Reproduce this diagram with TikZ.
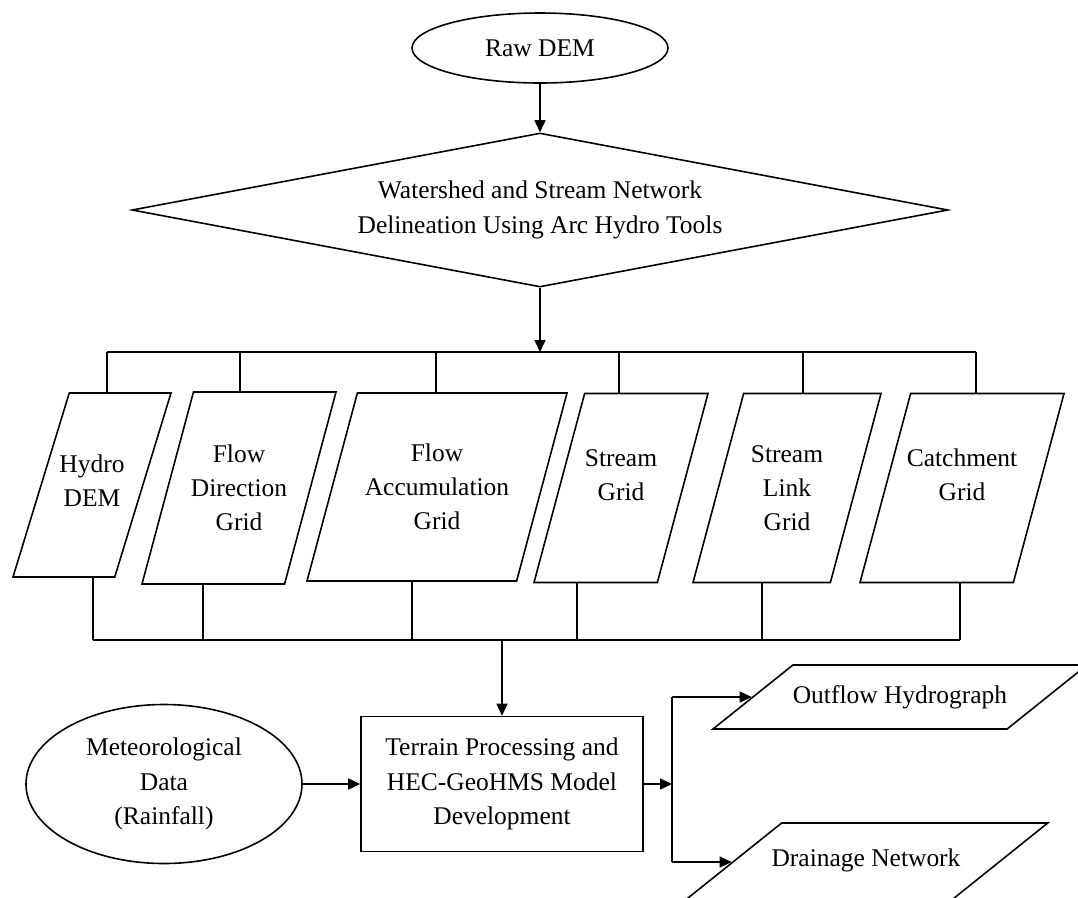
\documentclass[tikz,border=0pt]{standalone}
\usepackage{fontspec}
\setmainfont{Liberation Serif}
\usetikzlibrary{shapes.geometric, arrows.meta}

\begin{document}
\begin{tikzpicture}[x=0.2mm, y=-0.2mm, line width=0.9pt,
    every node/.style={font=\fontsize{14.5}{19.5}\selectfont, align=center, inner sep=1pt},
    arr/.style={-{Triangle[length=2.4mm,width=2.2mm]}},
    gridbox/.style={draw, trapezium, trapezium stretches body=true, inner sep=0pt,
        trapezium left angle=75, trapezium right angle=105, text height=37.8mm, text depth=0pt},
    outbox/.style={draw, trapezium, trapezium stretches body=true, inner sep=0pt,
        trapezium left angle=38.7, trapezium right angle=141.3, text depth=0pt}]
    \useasboundingbox (0,0) rectangle (1078,897);
    \clip (0,0) rectangle (1078,897);

    \node[draw, ellipse, minimum width=51.2mm, minimum height=14mm] (raw) at (540,48) {Raw DEM};
    \node[draw, diamond, shape aspect=5.3, inner sep=0pt, minimum width=163.2mm, minimum height=30.8mm] (delin) at (540,210)
        {Watershed and Stream Network\\Delineation Using Arc Hydro Tools};

    \node[gridbox, minimum width=31.6mm, text height=36.8mm, trapezium left angle=73, trapezium right angle=107,
        label={[yshift=0.8mm]center:Hydro\\DEM}] (hydro) at (92,485) {};
    \node[gridbox, minimum width=38.8mm, text height=38.4mm, label={center:Flow\\Direction\\Grid}] (fdir) at (239,488) {};
    \node[gridbox, minimum width=52mm, text height=37.6mm, label={center:Flow\\Accumulation\\Grid}] (facc) at (437,487) {};
    \node[gridbox, minimum width=34.8mm, label={[yshift=2.6mm]center:Stream\\Grid}] (sgrid) at (621,488) {};
    \node[gridbox, minimum width=37.6mm, label={center:Stream\\Link\\Grid}] (slink) at (787,488) {};
    \node[gridbox, minimum width=40.8mm, label={[yshift=2.6mm]center:Catchment\\Grid}] (catch) at (962,488) {};

    \node[draw, minimum width=56.4mm, minimum height=27mm] (terrain) at (502,784)
        {Terrain Processing and\\HEC-GeoHMS Model\\Development};
    \node[draw, ellipse, minimum width=55.2mm, minimum height=31.8mm] (met) at (164,784)
        {Meteorological\\Data\\(Rainfall)};
    \node[outbox, minimum width=74.8mm, text height=12.8mm, label={center:Outflow Hydrograph}] (outflow) at (900,697) {};
    \node[outbox, minimum width=72.7mm, text height=15.6mm, label={[yshift=0.4mm]center:Drainage Network}] (drain) at (866,862) {};

    \coordinate (top) at (540,352);
    \coordinate (bot) at (502,640);
    \coordinate (split) at (672,784);

    \draw[arr] (raw) -- (delin);
    \draw[arr] (delin) -- (top);
    \draw (107,352) -- (976,352);
    \foreach \n/\x in {hydro/107, fdir/240, facc/436, sgrid/619, slink/803, catch/976}
        \draw (\x,352) -- (\n.north -| \x,0);
    \foreach \n/\x in {hydro/93, fdir/203, facc/412, sgrid/577, slink/762, catch/960}
        \draw (\n.south -| \x,0) -- (\x,640);
    \draw (93,640) -- (960,640);
    \draw[arr] (bot) -- (terrain);
    \draw[arr] (met.east) -- (met.east -| terrain.west);
    \draw[arr] (terrain) -- (split);
    \draw (split |- outflow) -- (split |- drain);
    \draw[arr] (split |- outflow) -- (outflow.west);
    \draw[arr] (split |- drain) -- (drain.west);
\end{tikzpicture}
\end{document}
